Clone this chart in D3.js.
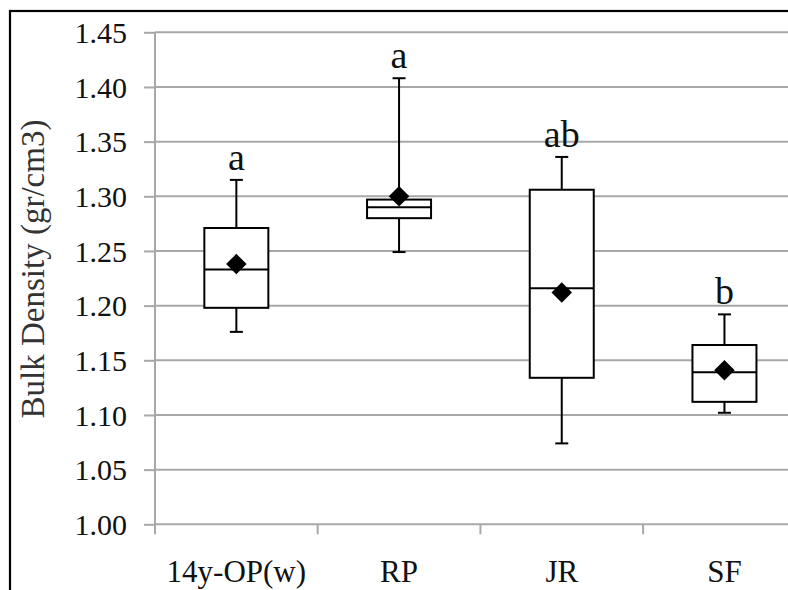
<!DOCTYPE html>
<html lang="en">
<head>
    <meta charset="UTF-8">
    <title>Bulk Density box plot</title>
    <style>
        body, html {
            margin: 0;
            padding: 0;
            background: #fff;
            overflow: hidden;
        }
    </style>
</head>
<body>
    <svg id="chart" width="788" height="590"></svg>

    <script src="https://cdnjs.cloudflare.com/ajax/libs/d3/7.8.5/d3.min.js"></script>
    <script>
        // data
        const categories = ["14y-OP(w)", "RP", "JR", "SF"];
        const whiskerLow = [1.176, 1.249, 1.074, 1.102];
        const q1 = [1.198, 1.280, 1.134, 1.112];
        const median = [1.233, 1.290, 1.216, 1.139];
        const q3 = [1.271, 1.297, 1.306, 1.164];
        const whiskerHigh = [1.315, 1.408, 1.336, 1.192];
        const means = [1.238, 1.300, 1.212, 1.141];
        const groupLetters = ["a", "a", "ab", "b"];
        const yTicks = [1.00, 1.05, 1.10, 1.15, 1.20, 1.25, 1.30, 1.35, 1.40, 1.45];

        const serif = "'Liberation Serif', 'Times New Roman', serif";
        const svg = d3.select("#chart")
            .attr("font-family", serif);
        const plotLeft = 155, plotTop = 32.3, plotBottom = 524.3;
        const bandW = 162.7;

        const x = d3.scaleBand()
            .domain(categories)
            .range([plotLeft, plotLeft + bandW * categories.length])
            .padding(0);

        const y = d3.scaleLinear()
            .domain([1.00, 1.45])
            .range([plotBottom, plotTop]);

        // outer frame (cut off at right and bottom like the original)
        svg.append("rect")
            .attr("x", 10).attr("y", 11)
            .attr("width", 800).attr("height", 600)
            .attr("fill", "#fff")
            .attr("stroke", "#000")
            .attr("stroke-width", 2.2);

        // gridlines + y axis
        const yAxis = d3.axisLeft(y)
            .tickValues(yTicks)
            .tickFormat(d3.format(".2f"))
            .tickSize(11)
            .tickPadding(17);

        svg.append("g")
            .selectAll("line")
            .data(yTicks.filter(d => d > 1.00))
            .enter()
            .append("line")
            .attr("x1", plotLeft).attr("x2", 788)
            .attr("y1", d => y(d)).attr("y2", d => y(d))
            .attr("stroke", "#a8a8a8")
            .attr("stroke-width", 2);

        const gy = svg.append("g")
            .attr("transform", `translate(${plotLeft},0)`)
            .call(yAxis)
            .attr("font-family", serif)
            .attr("font-size", 30);
        gy.select(".domain").remove();
        gy.selectAll(".tick line").attr("stroke", "#a8a8a8").attr("stroke-width", 2);
        gy.selectAll(".tick text")
            .attr("fill", "#111")
            .attr("dy", "0.34em");

        // axis lines
        svg.append("line")
            .attr("x1", plotLeft).attr("x2", plotLeft)
            .attr("y1", plotTop).attr("y2", plotBottom + 10)
            .attr("stroke", "#a8a8a8").attr("stroke-width", 2);
        svg.append("line")
            .attr("x1", plotLeft).attr("x2", 788)
            .attr("y1", plotBottom).attr("y2", plotBottom)
            .attr("stroke", "#a8a8a8").attr("stroke-width", 2);

        // category separators below the x axis
        svg.append("g")
            .selectAll("line")
            .data(categories.slice(1))
            .enter()
            .append("line")
            .attr("x1", d => x(d)).attr("x2", d => x(d))
            .attr("y1", plotBottom).attr("y2", plotBottom + 10)
            .attr("stroke", "#a8a8a8").attr("stroke-width", 2);

        svg.append("g")
            .selectAll("text")
            .data(categories)
            .enter()
            .append("text")
            .attr("x", d => x(d) + x.bandwidth() / 2)
            .attr("y", 582)
            .attr("text-anchor", "middle")
            .attr("font-size", 31)
            .attr("fill", "#111")
            .text(d => d);

        // y title
        svg.append("text")
            .attr("transform", "translate(44,269) rotate(-90)")
            .attr("text-anchor", "middle")
            .attr("font-size", 33)
            .attr("fill", "#333")
            .text("Bulk Density (gr/cm3)");

        // boxes
        const boxW = 64, capW = 13;
        const boxes = svg.append("g")
            .selectAll("g")
            .data(categories)
            .enter()
            .append("g")
            .attr("transform", d => `translate(${x(d) + x.bandwidth() / 2},0)`);

        boxes.append("line")
            .attr("x1", 0).attr("x2", 0)
            .attr("y1", (d, i) => y(whiskerHigh[i])).attr("y2", (d, i) => y(q3[i]))
            .attr("stroke", "#000").attr("stroke-width", 2);
        boxes.append("line")
            .attr("x1", 0).attr("x2", 0)
            .attr("y1", (d, i) => y(q1[i])).attr("y2", (d, i) => y(whiskerLow[i]))
            .attr("stroke", "#000").attr("stroke-width", 2);
        boxes.append("line")
            .attr("x1", -capW / 2).attr("x2", capW / 2)
            .attr("y1", (d, i) => y(whiskerHigh[i])).attr("y2", (d, i) => y(whiskerHigh[i]))
            .attr("stroke", "#000").attr("stroke-width", 2);
        boxes.append("line")
            .attr("x1", -capW / 2).attr("x2", capW / 2)
            .attr("y1", (d, i) => y(whiskerLow[i])).attr("y2", (d, i) => y(whiskerLow[i]))
            .attr("stroke", "#000").attr("stroke-width", 2);

        boxes.append("rect")
            .attr("x", -boxW / 2)
            .attr("y", (d, i) => y(q3[i]))
            .attr("width", boxW)
            .attr("height", (d, i) => y(q1[i]) - y(q3[i]))
            .attr("fill", "#fff")
            .attr("stroke", "#000")
            .attr("stroke-width", 2);
        boxes.append("line")
            .attr("x1", -boxW / 2).attr("x2", boxW / 2)
            .attr("y1", (d, i) => y(median[i])).attr("y2", (d, i) => y(median[i]))
            .attr("stroke", "#000").attr("stroke-width", 2);

        // mean diamonds
        boxes.append("path")
            .attr("d", d3.symbol().type(d3.symbolSquare).size(210))
            .attr("transform", (d, i) => `translate(0,${y(means[i])}) rotate(45)`)
            .attr("fill", "#000");

        // significance letters
        boxes.append("text")
            .attr("x", 0)
            .attr("y", (d, i) => y(whiskerHigh[i]) - 10)
            .attr("text-anchor", "middle")
            .attr("font-size", 38)
            .attr("fill", "#111")
            .text((d, i) => groupLetters[i]);
    </script>
</body>
</html>
